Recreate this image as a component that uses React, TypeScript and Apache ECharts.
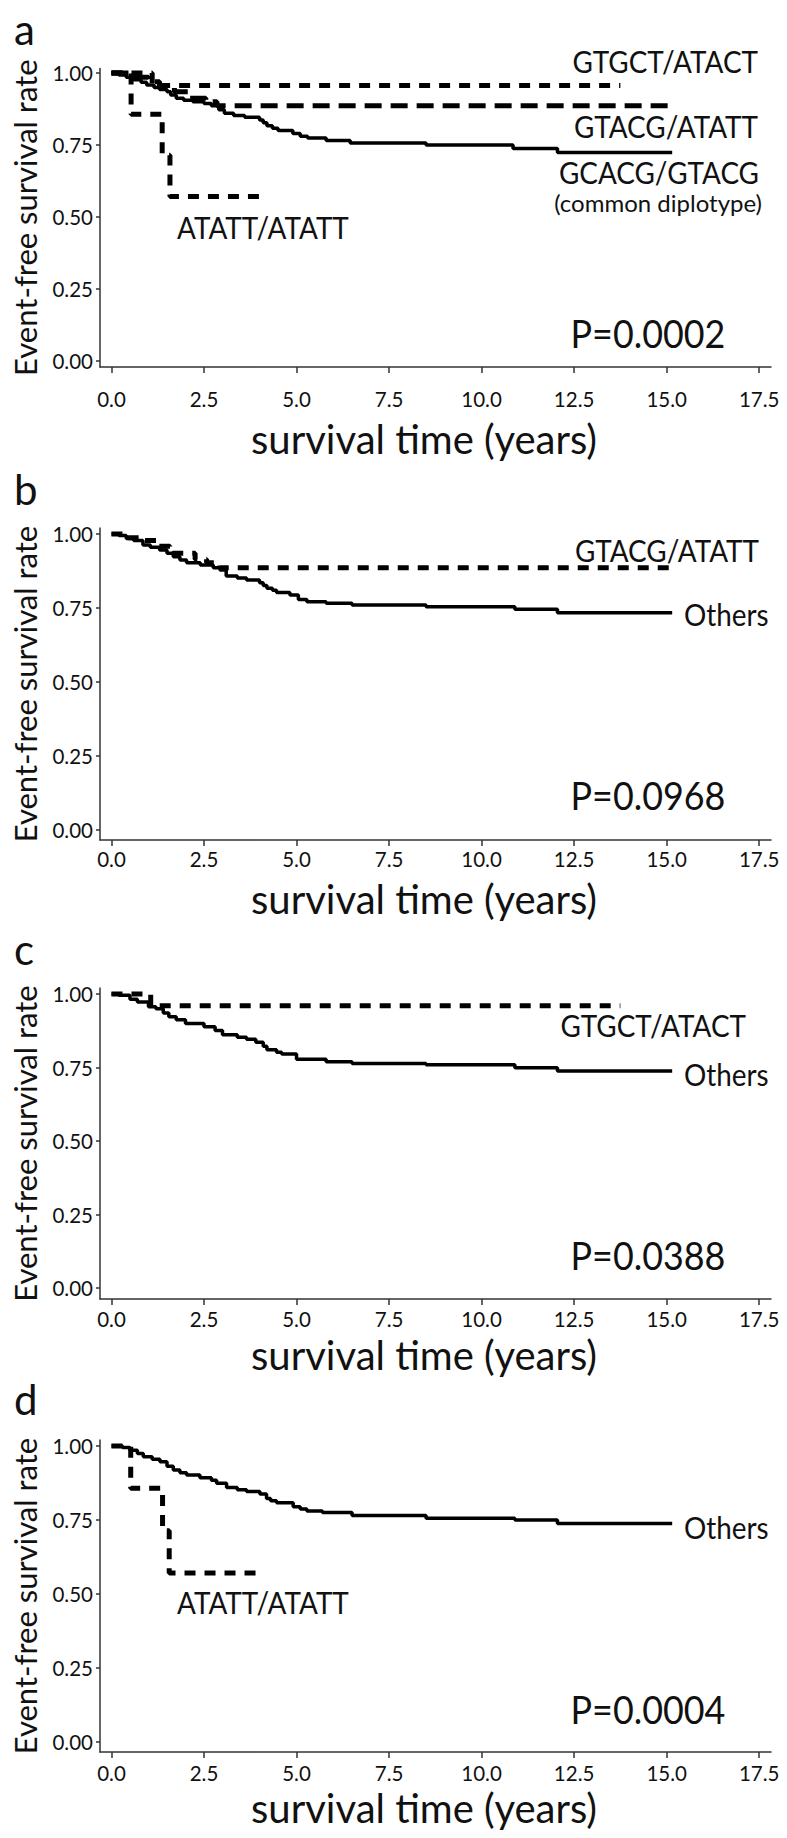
import React, { useEffect, useRef } from "react";
import * as echarts from "echarts";

// ---------- data ----------
const xTickValues = [0, 2.5, 5, 7.5, 10, 12.5, 15, 17.5];
const yTickValues = [0, 0.25, 0.5, 0.75, 1];
const panelLetters = ["a", "b", "c", "d"];
const pValues = ["P=0.0002", "P=0.0968", "P=0.0388", "P=0.0004"];
const xAxisTitle = "survival time (years)";
const yAxisTitle = "Event-free survival rate";

// panel a
const commonA: number[][] = [
  [0, 1], [0.2, 0.993], [0.4, 0.985], [0.6, 0.977], [0.8, 0.968], [0.95, 0.958], [1.15, 0.95],
  [1.3, 0.943], [1.5, 0.935], [1.6, 0.924], [1.75, 0.912], [1.95, 0.905], [2.2, 0.9], [2.5, 0.894],
  [2.7, 0.886], [2.9, 0.872], [3.05, 0.86], [3.3, 0.852], [3.6, 0.846], [4.0, 0.837], [4.1, 0.827],
  [4.2, 0.817], [4.35, 0.808], [4.5, 0.8], [4.9, 0.79], [5.1, 0.78], [5.3, 0.774], [5.8, 0.766],
  [6.45, 0.757], [8.5, 0.75], [10.85, 0.738], [12.05, 0.724], [15.15, 0.724],
];
const gtgctA: number[][] = [[0, 1], [1.1, 0.957], [13.75, 0.957]];
const gtacgA: number[][] = [
  [0, 1], [0.5, 0.985], [1.0, 0.97], [1.3, 0.955], [1.7, 0.935], [2.1, 0.912], [2.55, 0.9],
  [2.85, 0.886], [15.05, 0.886],
];
const atattA: number[][] = [[0, 1], [0.53, 0.857], [1.37, 0.714], [1.58, 0.571], [4.05, 0.571]];

// panel b
const othersB: number[][] = [
  [0, 1], [0.2, 0.995], [0.4, 0.985], [0.6, 0.978], [0.85, 0.963], [1.05, 0.955], [1.3, 0.946],
  [1.5, 0.935], [1.67, 0.923], [1.85, 0.912], [2.03, 0.903], [2.4, 0.895], [2.75, 0.886],
  [2.93, 0.878], [3.1, 0.858], [3.4, 0.851], [3.65, 0.845], [4.0, 0.835], [4.1, 0.826],
  [4.2, 0.817], [4.35, 0.81], [4.46, 0.802], [4.82, 0.794], [5.05, 0.779], [5.28, 0.771],
  [5.8, 0.766], [6.5, 0.76], [8.5, 0.754], [10.9, 0.746], [12.05, 0.734], [15.15, 0.734],
];
const gtacgB: number[][] = [
  [0, 1], [0.36, 0.987], [0.9, 0.978], [1.22, 0.959], [1.58, 0.935], [2.26, 0.915], [2.57, 0.903],
  [2.93, 0.886], [15.1, 0.886],
];

// panel c
const othersC: number[][] = [
  [0, 1], [0.2, 0.996], [0.5, 0.982], [0.7, 0.973], [1.0, 0.957], [1.2, 0.95], [1.4, 0.935],
  [1.55, 0.923], [1.75, 0.912], [2.0, 0.9], [2.5, 0.889], [2.8, 0.876], [3.0, 0.861],
  [3.4, 0.853], [3.65, 0.846], [3.9, 0.836], [4.1, 0.822], [4.2, 0.81], [4.46, 0.802],
  [4.6, 0.796], [5.0, 0.778], [5.8, 0.77], [6.5, 0.764], [8.5, 0.759], [10.9, 0.749],
  [12.05, 0.738], [15.15, 0.738],
];
const gtgctC: number[][] = [[0, 1], [1.06, 0.96], [13.75, 0.96]];

// panel d
const othersD: number[][] = [
  [0, 1], [0.3, 0.995], [0.5, 0.986], [0.7, 0.975], [0.86, 0.964], [1.1, 0.955], [1.31, 0.947],
  [1.5, 0.932], [1.67, 0.919], [1.85, 0.91], [2.03, 0.902], [2.39, 0.893], [2.7, 0.884],
  [2.84, 0.874], [3.11, 0.86], [3.4, 0.852], [3.65, 0.846], [4.01, 0.838], [4.19, 0.823],
  [4.3, 0.815], [4.46, 0.808], [4.91, 0.795], [5.1, 0.787], [5.28, 0.78], [5.7, 0.775],
  [6.5, 0.765], [8.5, 0.756], [10.9, 0.75], [12.05, 0.738], [15.15, 0.738],
];
const atattD: number[][] = [[0, 1], [0.52, 0.857], [1.38, 0.714], [1.56, 0.571], [3.92, 0.571]];

// ---------- styling / layout ----------
const FONT = 'Lato, "Open Sans", sans-serif';
const INK = "#111";
const AXIS = "#333";
const SOLID = { color: "#000", width: 3.5, type: "solid" as const };
const SHORT_DASH = { color: "#000", width: 5, type: [11, 9] as number[] };
const LONG_DASH = { color: "#000", width: 5, type: [17, 9] as number[] };

const panels = [
  { top: 68.4, bottom: 367, ymin: -0.021, ymax: 1.016, xMargin: 21, letterY: 29, titleY: 439, pY: 333 },
  { top: 528.1, bottom: 840, ymin: -0.034, ymax: 1.02, xMargin: 8, letterY: 489, titleY: 899, pY: 795 },
  { top: 988.1, bottom: 1299, ymin: -0.037, ymax: 1.02, xMargin: 9, letterY: 949, titleY: 1355, pY: 1255 },
  { top: 1440.1, bottom: 1752, ymin: -0.034, ymax: 1.02, xMargin: 10, letterY: 1399, titleY: 1808, pY: 1708.5 },
];
const GRID_LEFT = 100;
const GRID_RIGHT = 16;
const XMIN = -0.31;
const XMAX = 17.82;

function txt(text: string, x: number, y: number, size: number, align: string, extra: any = {}) {
  return {
    type: "text",
    x,
    y,
    silent: true,
    ...extra,
    style: {
      text,
      fontSize: size,
      fontFamily: FONT,
      fill: INK,
      align,
      verticalAlign: "middle",
    },
  };
}

export default function App() {
  const ref = useRef<HTMLDivElement>(null);

  useEffect(() => {
    if (!ref.current) return;
    const chart = echarts.init(ref.current, null, { renderer: "svg" });

    const grids = panels.map((p) => ({
      left: GRID_LEFT,
      right: GRID_RIGHT,
      top: p.top,
      height: p.bottom - p.top,
      outerBoundsMode: "none",
      containLabel: false,
    }));

    const xAxes = panels.map((p, i) => ({
      type: "value",
      gridIndex: i,
      min: XMIN,
      max: XMAX,
      axisLine: { show: true, onZero: false, lineStyle: { color: AXIS, width: 1.5 } },
      axisTick: { show: true, length: 6, customValues: xTickValues, lineStyle: { color: AXIS, width: 1.5 } },
      axisLabel: {
        show: true,
        customValues: xTickValues,
        formatter: (v: number) => v.toFixed(1),
        fontSize: 20.5,
        fontFamily: FONT,
        color: INK,
        margin: p.xMargin,
      },
      splitLine: { show: false },
    }));

    const yAxes = panels.map((p, i) => ({
      type: "value",
      gridIndex: i,
      min: p.ymin,
      max: p.ymax,
      axisLine: { show: true, onZero: false, lineStyle: { color: AXIS, width: 1.5 } },
      axisTick: { show: true, length: 4, customValues: yTickValues, lineStyle: { color: AXIS, width: 1.5 } },
      axisLabel: {
        show: true,
        customValues: yTickValues,
        formatter: (v: number) => v.toFixed(2),
        fontSize: 20.5,
        fontFamily: FONT,
        color: INK,
        margin: 7,
      },
      splitLine: { show: false },
    }));

    const line = (idx: number, data: number[][], style: any, name: string) => ({
      type: "line",
      name,
      xAxisIndex: idx,
      yAxisIndex: idx,
      data,
      step: "end",
      symbol: "none",
      showSymbol: false,
      silent: true,
      lineStyle: style,
      z: style.type === "solid" ? 2 : 3,
    });

    const series = [
      line(0, commonA, SOLID, "GCACG/GTACG"),
      line(0, gtgctA, SHORT_DASH, "GTGCT/ATACT"),
      line(0, gtacgA, LONG_DASH, "GTACG/ATATT"),
      line(0, atattA, SHORT_DASH, "ATATT/ATATT"),
      line(1, othersB, SOLID, "Others"),
      line(1, gtacgB, SHORT_DASH, "GTACG/ATATT"),
      line(2, othersC, SOLID, "Others"),
      line(2, gtgctC, SHORT_DASH, "GTGCT/ATACT"),
      line(3, othersD, SOLID, "Others"),
      line(3, atattD, SHORT_DASH, "ATATT/ATATT"),
    ];

    const graphics: any[] = [];
    panels.forEach((p, i) => {
      graphics.push(txt(panelLetters[i], 14, p.letterY, 42, "left"));
      graphics.push(txt(xAxisTitle, 424, p.titleY, 40, "center"));
      graphics.push(
        txt(yAxisTitle, 25, (p.top + p.bottom) / 2, 31, "center", { rotation: Math.PI / 2 })
      );
      graphics.push(txt(pValues[i], 648, p.pY, 39, "center", { scaleX: 0.92 }));
    });
    // curve labels
    graphics.push(txt("GTGCT/ATACT", 758, 61, 30, "right", { scaleX: 0.93 }));
    graphics.push(txt("GTACG/ATATT", 758, 126, 30, "right", { scaleX: 0.93 }));
    graphics.push(txt("GCACG/GTACG", 759, 172.5, 30, "right", { scaleX: 0.93 }));
    graphics.push(txt("(common diplotype)", 762, 202, 24, "right"));
    graphics.push(txt("ATATT/ATATT", 177, 227.5, 30, "left", { scaleX: 0.93 }));
    graphics.push(txt("GTACG/ATATT", 759, 550, 30, "right", { scaleX: 0.93 }));
    graphics.push(txt("Others", 684, 614, 30, "left", { scaleX: 0.93 }));
    graphics.push(txt("GTGCT/ATACT", 746, 1025, 30, "right", { scaleX: 0.93 }));
    graphics.push(txt("Others", 684, 1074, 30, "left", { scaleX: 0.93 }));
    graphics.push(txt("Others", 684, 1527, 30, "left", { scaleX: 0.93 }));
    graphics.push(txt("ATATT/ATATT", 177, 1602, 30, "left", { scaleX: 0.93 }));

    chart.setOption({
      animation: false,
      backgroundColor: "#fff",
      grid: grids,
      xAxis: xAxes,
      yAxis: yAxes,
      series,
      graphic: graphics,
    });

    return () => chart.dispose();
  }, []);

  return (
    <div
      ref={ref}
      style={{ position: "absolute", left: 0, top: 0, width: 787, height: 1838, background: "#fff" }}
    />
  );
}
